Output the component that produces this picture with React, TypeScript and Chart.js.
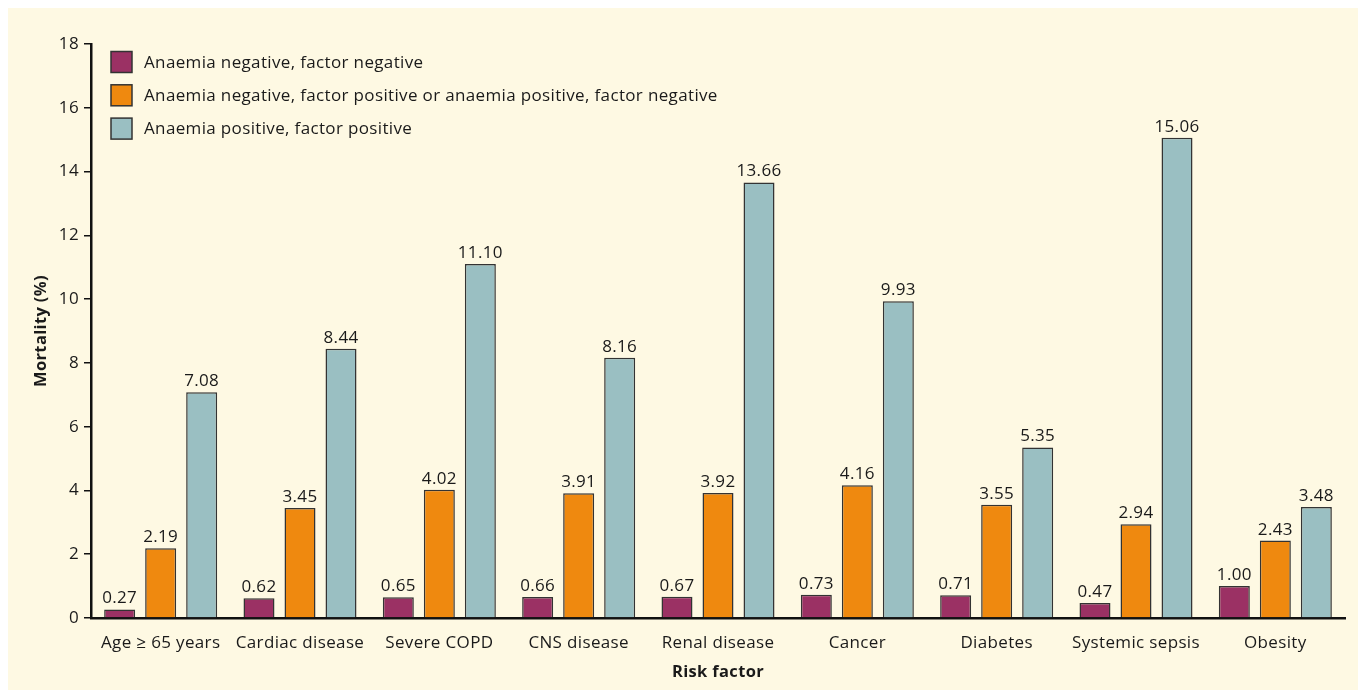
import React, { useEffect, useRef } from "react";
import { Chart, registerables } from "chart.js";

Chart.register(...registerables);

const categories = [
  "Age ≥ 65 years",
  "Cardiac disease",
  "Severe COPD",
  "CNS disease",
  "Renal disease",
  "Cancer",
  "Diabetes",
  "Systemic sepsis",
  "Obesity",
];
const seriesNames = [
  "Anaemia negative, factor negative",
  "Anaemia negative, factor positive or anaemia positive, factor negative",
  "Anaemia positive, factor positive",
];
const negNeg = [0.27, 0.62, 0.65, 0.66, 0.67, 0.73, 0.71, 0.47, 1.0];
const mixed = [2.19, 3.45, 4.02, 3.91, 3.92, 4.16, 3.55, 2.94, 2.43];
const posPos = [7.08, 8.44, 11.1, 8.16, 13.66, 9.93, 5.35, 15.06, 3.48];
const yTicks = [0, 2, 4, 6, 8, 10, 12, 14, 16, 18];

const COLORS = ["#9B3164", "#EF890F", "#9ABFC2"];
const BORDER = "#333333";
const BG = "#FEF9E3";
const TEXT = "#1a1a1a";
const FONT = "'Open Sans', 'Noto Sans', sans-serif";
const SPACING = "0.35px";

const bgPlugin = {
  id: "bgFill",
  beforeUpdate(chart: any) {
    chart.ctx.letterSpacing = SPACING;
  },
  beforeDraw(chart: any) {
    const { ctx, width, height } = chart;
    ctx.save();
    ctx.fillStyle = BG;
    ctx.fillRect(0, 0, width, height);
    ctx.restore();
    ctx.letterSpacing = SPACING;
  },
};

const labelPlugin = {
  id: "valueLabels",
  afterDatasetsDraw(chart: any) {
    const { ctx } = chart;
    ctx.save();
    ctx.font = `17px ${FONT}`;
    ctx.fillStyle = TEXT;
    ctx.textAlign = "center";
    ctx.textBaseline = "alphabetic";
    chart.data.datasets.forEach((ds: any, i: number) => {
      const meta = chart.getDatasetMeta(i);
      meta.data.forEach((bar: any, j: number) => {
        ctx.fillText(ds.data[j].toFixed(2), bar.x, bar.y - 6);
      });
    });
    ctx.restore();
  },
};

const legendPlugin = {
  id: "customLegend",
  afterDraw(chart: any) {
    const { ctx, chartArea } = chart;
    ctx.save();
    ctx.font = `17px ${FONT}`;
    ctx.textBaseline = "middle";
    ctx.textAlign = "left";
    chart.data.datasets.forEach((ds: any, i: number) => {
      const x = chartArea.left + 20;
      const cy = chartArea.top + 18 + i * 33.3;
      ctx.fillStyle = ds.backgroundColor;
      ctx.fillRect(x, cy - 10.5, 21, 21);
      ctx.strokeStyle = BORDER;
      ctx.lineWidth = 1.5;
      ctx.strokeRect(x, cy - 10.5, 21, 21);
      ctx.fillStyle = TEXT;
      ctx.fillText(ds.label, x + 33, cy + 1);
    });
    ctx.restore();
  },
};

export default function App() {
  const ref = useRef<HTMLCanvasElement | null>(null);
  useEffect(() => {
    document.documentElement.style.overflow = "hidden";
    document.body.style.overflow = "hidden";
    const data = [negNeg, mixed, posPos];
    const chart = new Chart(ref.current as HTMLCanvasElement, {
      type: "bar",
      data: {
        labels: categories,
        datasets: seriesNames.map((name, i) => ({
          label: name,
          data: data[i],
          backgroundColor: COLORS[i],
          borderColor: BORDER,
          borderWidth: 1.5,
          categoryPercentage: 0.883,
          barPercentage: 0.756,
        })),
      },
      options: {
        animation: false,
        responsive: true,
        maintainAspectRatio: false,
        layout: { padding: { top: 36, right: 18, left: 0, bottom: 0 } },
        plugins: {
          legend: { display: false },
          tooltip: { enabled: false },
        },
        scales: {
          x: {
            grid: { display: false, drawTicks: false },
            border: { display: true, color: "#111", width: 2.5 },
            ticks: {
              color: TEXT,
              font: { family: FONT, size: 17 },
              padding: 15,
              maxRotation: 0,
              autoSkip: false,
            },
            title: {
              display: true,
              text: "Risk factor",
              color: TEXT,
              font: { family: FONT, size: 16.5, weight: "bold" },
              padding: { top: 4, bottom: 8 },
            },
            afterFit(scale: any) {
              scale.height = 72;
            },
          },
          y: {
            min: 0,
            max: 18,
            afterBuildTicks(scale: any) {
              scale.ticks = yTicks.map((v) => ({ value: v }));
            },
            grid: {
              drawOnChartArea: false,
              drawTicks: true,
              tickLength: 7,
              color: "#111",
              lineWidth: 1.5,
            },
            border: { display: true, color: "#111", width: 2.5 },
            ticks: {
              color: TEXT,
              font: { family: FONT, size: 17 },
              padding: 5,
            },
            title: {
              display: true,
              text: "Mortality (%)",
              color: TEXT,
              font: { family: FONT, size: 16.5, weight: "bold" },
              padding: { top: 23, bottom: 0 },
            },
            afterFit(scale: any) {
              scale.width = 83;
            },
          },
        },
      },
      plugins: [bgPlugin, labelPlugin, legendPlugin],
    } as any);
    return () => chart.destroy();
  }, []);
  return (
    <div style={{ width: 1355, height: 682, position: "relative" }}>
      <canvas ref={ref} />
    </div>
  );
}
